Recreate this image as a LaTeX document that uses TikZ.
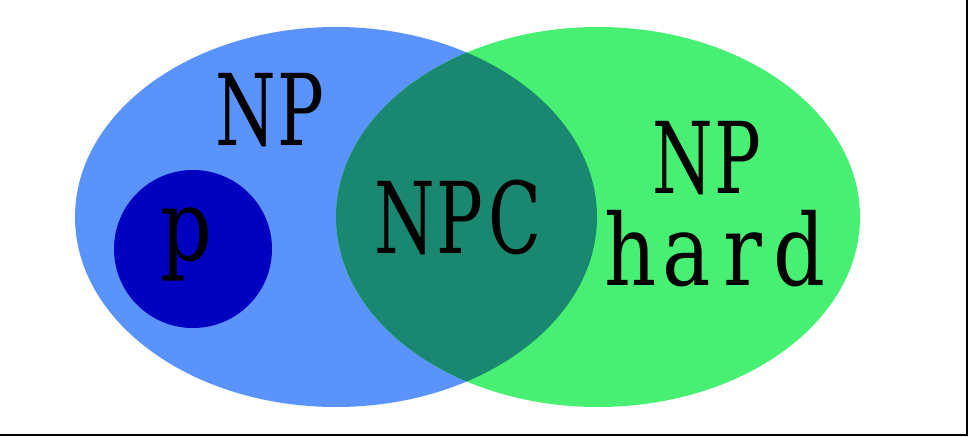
\documentclass[tikz,border=0pt]{standalone}
\usepackage{fontspec}
\setmainfont{DejaVu Serif}
\usepackage{graphicx}
\definecolor{npblue}{HTML}{5B93FC}
\definecolor{npgreen}{HTML}{47EF72}
\definecolor{npcteal}{HTML}{1A8770}
\definecolor{pdark}{HTML}{0000C0}
\newcommand\capch[1]{\makebox[55pt]{\scalebox{0.7}[1]{#1}}}
\newcommand\lowch[1]{\makebox[56pt]{\scalebox{0.82}[1]{#1}}}
\begin{document}
\begin{tikzpicture}[x=1pt,y=-1pt,
  lbl/.style={inner sep=0pt, outer sep=0pt, anchor=base, text=black,
              font=\fontsize{99pt}{99pt}\selectfont}]
\useasboundingbox (0,0) rectangle (968,436);
\fill[npblue] (336,217) ellipse [x radius=261pt, y radius=190pt];
\fill[npgreen] (598,217) ellipse [x radius=262pt, y radius=190pt];
\begin{scope}
  \clip (336,217) ellipse [x radius=261pt, y radius=190pt];
  \fill[npcteal] (598,217) ellipse [x radius=262pt, y radius=190pt];
\end{scope}
\fill[pdark] (193,249) circle [radius=79pt];
\node[lbl] (np) at (273,145) {\capch{N}\capch{P}};
\node[lbl] (npc) at (460,253) {\capch{N}\capch{P}\capch{C}};
\node[lbl] (nph1) at (710,193) {\capch{N}\capch{P}};
\node[lbl] (nph2) at (715,285) {\lowch{h}\lowch{a}\lowch{r}\lowch{d}};
\node[lbl] (p) at (186,260) {\scalebox{0.82}[1]{p}};
\draw[line width=2pt] (967,0) -- (967,435) -- (0,435);
\end{tikzpicture}
\end{document}
